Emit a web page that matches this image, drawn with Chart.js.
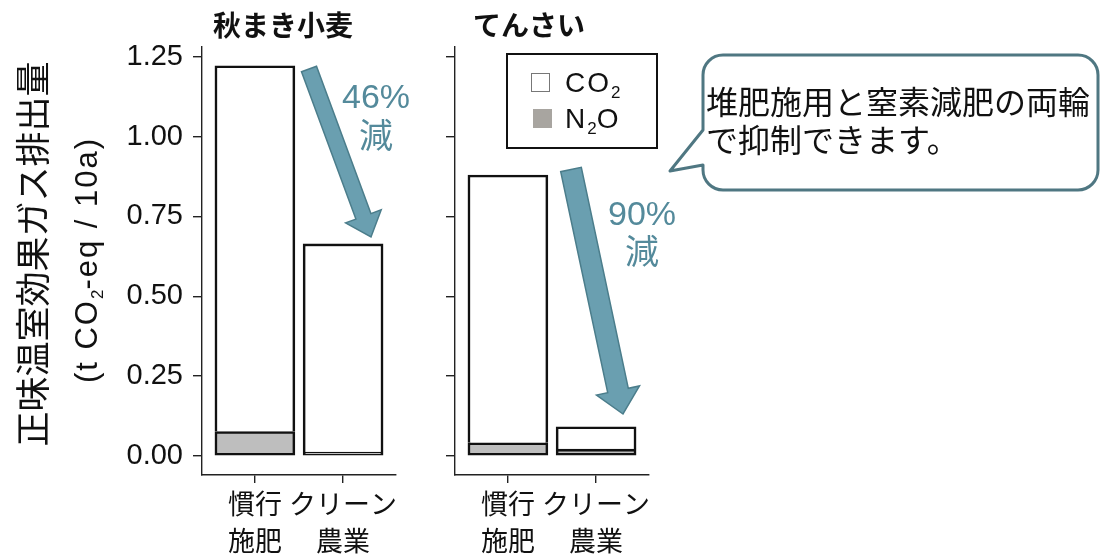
<!DOCTYPE html>
<html lang="ja">
<head>
<meta charset="utf-8">
<script src="https://cdn.jsdelivr.net/npm/chart.js"></script>
<style>
  html, body { margin: 0; padding: 0; background: #fff; }
  #wrap { position: relative; width: 1103px; height: 556px; overflow: hidden;
          font-family: 'Liberation Sans', Arial, sans-serif; color: #111; }
  canvas { position: absolute; top: 0; }
  svg { position: absolute; left: 0; top: 0; }
  .lbl { position: absolute; white-space: nowrap; line-height: 1; }
  .c { transform: translate(-50%, -50%); }
  .jp { font-family: 'Noto Sans CJK JP', sans-serif; }
  .pct { color: #548a9b; font-size: 34px; }
  .rot { transform: translate(-50%, -50%) rotate(-90deg); }
  #legend { position: absolute; left: 506px; top: 53px; width: 152px; height: 96px;
            border: 2px solid #111; box-sizing: border-box; background: #fff; }
  #legend .key { position: absolute; width: 19px; height: 19px; box-sizing: border-box; }
  #legend .txt { position: absolute; font-size: 28px; letter-spacing: 2px; line-height: 1; }
  sub { font-size: 17px; vertical-align: -6px; line-height: 0; letter-spacing: 0; }
</style>
</head>
<body>
<div id="wrap">
  <canvas id="wheat" width="440" height="556" style="left:0px"></canvas>
  <canvas id="beet" width="300" height="556" style="left:400px"></canvas>

  <svg id="overlay" width="1103" height="556"></svg>

  <!-- facet titles -->
  <div class="lbl jp" style="left:213px; top:10px; font-size:28px; font-weight:700;">秋まき小麦</div>
  <div class="lbl jp" style="left:473px; top:10px; font-size:28px; font-weight:700;">てんさい</div>

  <!-- y axis title -->
  <div class="lbl jp rot" style="left:30px; top:254px; font-size:35px;">正味温室効果ガス排出量</div>
  <div class="lbl rot" style="left:86px; top:260px; font-size:31px; letter-spacing:2px;">(t CO<sub>2</sub>-eq / 10a)</div>

  <!-- legend -->
  <div id="legend">
    <div class="key" style="left:23px; top:18px; border:1.5px solid #777; background:#fff;"></div>
    <div class="txt" style="left:57px; top:14px;">CO<sub>2</sub></div>
    <div class="key" style="left:25px; top:54px; background:#a8a5a0;"></div>
    <div class="txt" style="left:57px; top:50px;">N<sub>2</sub>O</div>
  </div>

  <!-- reduction labels -->
  <div class="lbl c pct" style="left:376px; top:96px;">46%</div>
  <div class="lbl c pct jp" style="left:376px; top:134px;">減</div>
  <div class="lbl c pct" style="left:642px; top:213px;">90%</div>
  <div class="lbl c pct jp" style="left:642px; top:250px;">減</div>

  <!-- callout text -->
  <div class="lbl jp" style="left:706px; top:81px; font-size:32px; line-height:38px;">堆肥施用と窒素減肥の両輪<br>で抑制できます。</div>
</div>

<script>
// categories and crops
const categories = [['慣行', '施肥'], ['クリーン', '農業']];
const crops = ['秋まき小麦', 'てんさい'];

// emissions (t CO2-eq / 10a), N2O stacked under CO2
const n2oWheat = [0.076, 0.012];
const co2Wheat = [1.146, 0.652];
const n2oBeet = [0.041, 0.021];
const co2Beet = [0.839, 0.070];

const yTicks = [0, 0.25, 0.5, 0.75, 1, 1.25];

const INK = '#222';
const jpFont = "'Noto Sans CJK JP', sans-serif";
const numFont = "'Liberation Sans', Arial, sans-serif";

function points(vals) {
  return vals.map((v, i) => ({ x: i + 1, y: v }));
}

function makePanel(id, co2, n2o, showLabels, yWidth, padRight) {
  return new Chart(document.getElementById(id), {
    type: 'bar',
    data: {
      datasets: [
        { label: 'N2O', data: points(n2o), backgroundColor: '#bebebe',
          borderColor: '#111', borderWidth: 2.6, borderSkipped: false, barThickness: 80 },
        { label: 'CO2', data: points(co2), backgroundColor: '#ffffff',
          borderColor: '#111', borderWidth: 2.6, borderSkipped: 'start', barThickness: 80 }
      ]
    },
    options: {
      responsive: false,
      animation: false,
      devicePixelRatio: 1,
      layout: { padding: { top: 47, right: padRight, bottom: 0, left: 0 } },
      plugins: { legend: { display: false }, tooltip: { enabled: false } },
      scales: {
        x: {
          type: 'linear', min: 0.4, max: 2.6, offset: false, stacked: true,
          grid: { offset: false, drawOnChartArea: false, drawTicks: true, tickLength: 8,
                  color: INK, lineWidth: 1.4 },
          border: { display: true, color: INK, width: 1.4 },
          afterBuildTicks: s => { s.ticks = categories.map((c, i) => ({ value: i + 1 })); },
          afterFit: s => { s.height = 81; s.paddingLeft = 0; s.paddingRight = 0; },
          ticks: {
            callback: v => categories[v - 1],
            color: '#111', padding: 2, maxRotation: 0, autoSkip: false,
            font: { family: jpFont, size: 27, lineHeight: 37 / 27 }
          }
        },
        y: {
          min: -0.06, max: 1.281, stacked: true,
          grid: { drawOnChartArea: false, drawTicks: true, tickLength: 9, color: INK, lineWidth: 1.4 },
          border: { display: true, color: INK, width: 1.4 },
          afterBuildTicks: s => { s.ticks = yTicks.map(v => ({ value: v })); },
          afterFit: s => { s.width = yWidth; s.paddingTop = 0; s.paddingBottom = 0; },
          ticks: {
            callback: v => showLabels ? v.toFixed(2) : '',
            color: '#111', padding: 10,
            font: { family: numFont, size: 29 }
          }
        }
      }
    }
  });
}

makePanel('wheat', co2Wheat, n2oWheat, true, 202, 44);
makePanel('beet', co2Beet, n2oBeet, false, 55, 51);

// arrows and callout bubble
function arrow(x0, y0, x1, y1, sw, hw, hl) {
  const dx = x1 - x0, dy = y1 - y0, L = Math.hypot(dx, dy);
  const ux = dx / L, uy = dy / L, nx = -uy, ny = ux;
  const bx = x1 - ux * hl, by = y1 - uy * hl;
  const p = [
    [x0 + nx * sw, y0 + ny * sw], [bx + nx * sw, by + ny * sw], [bx + nx * hw, by + ny * hw],
    [x1, y1],
    [bx - nx * hw, by - ny * hw], [bx - nx * sw, by - ny * sw], [x0 - nx * sw, y0 - ny * sw]
  ];
  return p.map(q => q[0].toFixed(1) + ',' + q[1].toFixed(1)).join(' ');
}

const svg = document.getElementById('overlay');
svg.innerHTML =
  '<polygon points="' + arrow(309, 69, 371, 237, 8, 19, 22) + '" fill="#6a9fb0" stroke="#4b7d8b" stroke-width="1.5" stroke-linejoin="miter"/>' +
  '<polygon points="' + arrow(571, 169.5, 623, 414, 10.5, 22, 24) + '" fill="#6a9fb0" stroke="#4b7d8b" stroke-width="1.5" stroke-linejoin="miter"/>' +
  '<path d="M723 55 H1078 A20 20 0 0 1 1098 75 V170 A20 20 0 0 1 1078 190 H723 A20 20 0 0 1 703 170 V165 L670 171 L703 130 V75 A20 20 0 0 1 723 55 Z" ' +
  'fill="#fff" stroke="#4f7782" stroke-width="3" stroke-linejoin="round"/>';
</script>
</body>
</html>
